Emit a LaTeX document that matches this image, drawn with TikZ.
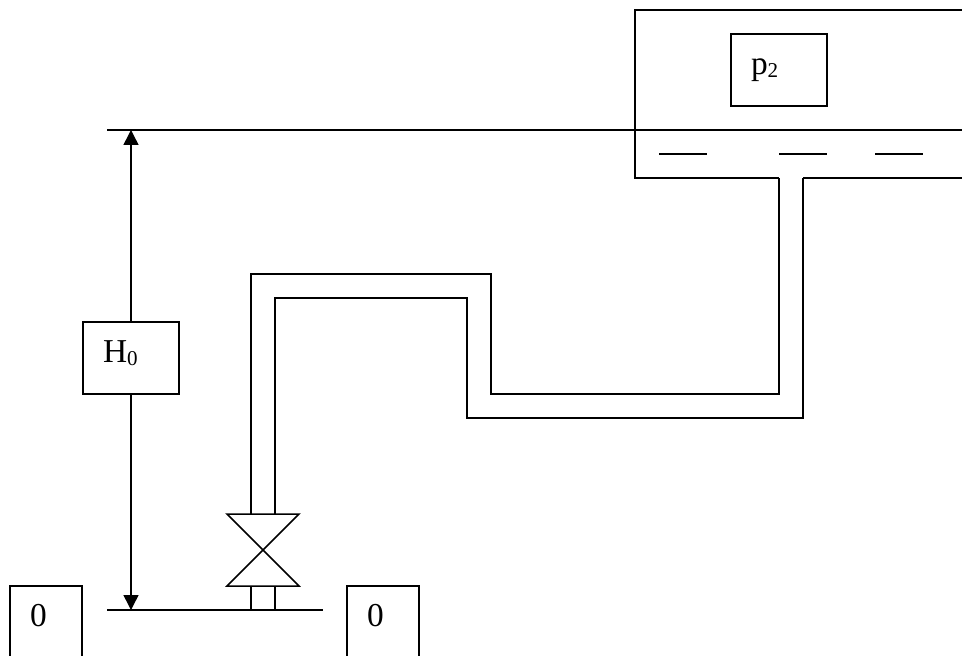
\documentclass[tikz,border=0pt]{standalone}
\usepackage{fontspec}
\setmainfont{Liberation Serif}
\usetikzlibrary{arrows.meta}
\newcommand{\lowsub}[1]{\raisebox{-1.7pt}{\fontsize{12}{14}\selectfont #1}}
\tikzset{
	labelbox/.style={draw, rectangle, line width=0.85pt, outer sep=0pt, inner xsep=0.4cm, inner ysep=0pt, minimum height=1.44cm, text height=8pt, text depth=2.5pt, font=\fontsize{19}{22}\selectfont},
	widebox/.style={labelbox, text width=1.12cm},
	narrowbox/.style={labelbox, text width=0.64cm},
	dimline/.style={-{Triangle[length=8.5pt,width=8.5pt]}, line width=0.85pt}
}

\begin{document}
\begin{tikzpicture}[x=0.02cm, y=-0.02cm, line width=0.85pt]
				\useasboundingbox (0, 0) rectangle (962, 655);
				
				\draw (962, 10) -- (635, 10) -- (635, 178) -- (779, 178);
				\draw (803, 178) -- (962, 178);
				\node[widebox] (pressure) at (779, 70) {p\lowsub{2}};
				
				\draw (107, 130) -- (962, 130);
				\draw (659, 154) -- (707, 154);
				\draw (779, 154) -- (827, 154);
				\draw (875, 154) -- (923, 154);
				
				\draw (779, 178) -- (779, 394) -- (491, 394) -- (491, 274) -- (251, 274) -- (251, 514);
				\draw (803, 178) -- (803, 418) -- (467, 418) -- (467, 298) -- (275, 298) -- (275, 514);
				
				\draw (227, 514) -- (299, 514) -- (227, 586) -- (299, 586) -- cycle;
				\draw (251, 586) -- (251, 610);
				\draw (275, 586) -- (275, 610);
				
				\draw (107, 610) -- (323, 610);
				
				\node[widebox] (head) at (131, 358) {H\lowsub{0}};
				\coordinate (headtop) at (131, 130);
				\coordinate (headbottom) at (131, 610);
				\draw[dimline] (head) -- (headtop);
				\draw[dimline] (head) -- (headbottom);
				
				\node[narrowbox] (leftzero) at (46, 622) {0};
				\node[narrowbox] (rightzero) at (383, 622) {0};
			\end{tikzpicture}
\end{document}
